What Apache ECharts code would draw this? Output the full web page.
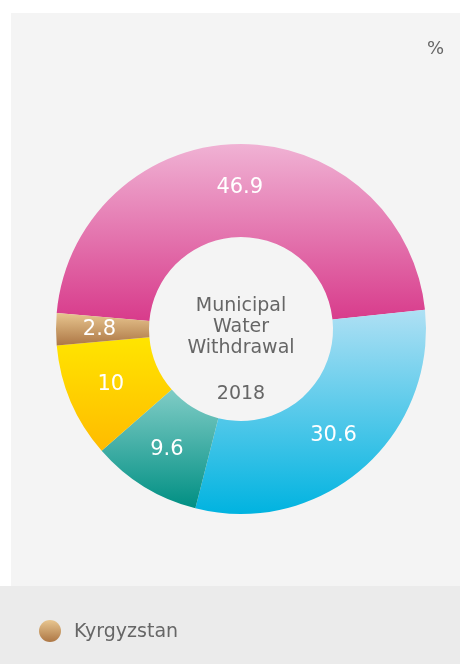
<!DOCTYPE html>
<html>
<head>
<meta charset="utf-8">
<script src="https://cdn.jsdelivr.net/npm/echarts@6/dist/echarts.min.js"></script>
<style>
  html, body { margin: 0; padding: 0; background: #fff; }
  #chart { width: 460px; height: 664px; }
</style>
</head>
<body>
<div id="chart"></div>
<script>
// slice order runs clockwise from the left edge
const categories = ['Part 1', 'Part 2', 'Part 3', 'Part 4', 'Part 5']
const values = [46.9, 30.6, 9.6, 10, 2.8]
const centerLines = ['Municipal', 'Water', 'Withdrawal']
const yearLabel = '2018'
const unitLabel = '%'
const legendLabel = 'Kyrgyzstan'

// [top, bottom] colour of each slice's vertical gradient
const gradients = [
  ['#f0b2d4', '#d83b8b'],
  ['#afe0f4', '#00b3e0'],
  ['#80ccc6', '#008f83'],
  ['#ffe500', '#ffbb00'],
  ['#e8c690', '#ad7745'],
]

const vgrad = ([top, bottom]) =>
  new echarts.graphic.LinearGradient(0, 0, 0, 1, [
    { offset: 0, color: top },
    { offset: 1, color: bottom },
  ])

const textColor = '#666666'
const font = '"DejaVu Sans", sans-serif'

const chart = echarts.init(document.getElementById('chart'))

chart.setOption({
  animation: false,
  graphic: [
    { type: 'rect', z: -10, shape: { x: 11, y: 13, width: 449, height: 573 }, style: { fill: '#f4f4f4' } },
    { type: 'rect', z: -10, shape: { x: 0, y: 586, width: 460, height: 78 }, style: { fill: '#ebebeb' } },
    {
      type: 'text', left: 427, top: 40,
      style: { text: unitLabel, fill: textColor, font: `18px ${font}` },
    },
    {
      type: 'text', x: 241, y: 327,
      style: {
        text: centerLines.join('\n'), fill: textColor, font: `19px ${font}`,
        align: 'center', verticalAlign: 'middle', lineHeight: 21,
      },
    },
    {
      type: 'text', x: 241, y: 394,
      style: { text: yearLabel, fill: textColor, font: `19px ${font}`, align: 'center', verticalAlign: 'middle' },
    },
    {
      type: 'circle', shape: { cx: 50, cy: 631, r: 11 },
      style: { fill: vgrad(gradients[4]) },
    },
    {
      type: 'text', x: 74, y: 632,
      style: { text: legendLabel, fill: textColor, font: `19px ${font}`, verticalAlign: 'middle' },
    },
  ],
  series: [
    {
      type: 'pie',
      center: [241, 329],
      radius: [92, 185],
      startAngle: 175,
      clockwise: true,
      avoidLabelOverlap: false,
      label: {
        show: true,
        position: 'inside',
        color: '#ffffff',
        fontSize: 21,
        fontFamily: font,
        formatter: (p) => String(p.value),
      },
      labelLine: { show: false },
      itemStyle: { borderWidth: 0 },
      emphasis: { disabled: true },
      data: categories.map((name, i) => ({
        name,
        value: values[i],
        itemStyle: { color: vgrad(gradients[i]) },
      })),
    },
  ],
})
</script>
</body>
</html>
